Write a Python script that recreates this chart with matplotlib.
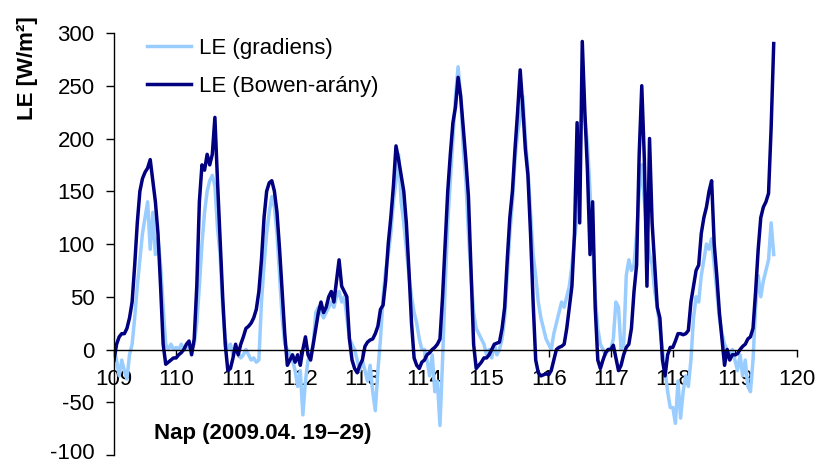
import numpy as np
import matplotlib
matplotlib.use("Agg")
import matplotlib.pyplot as plt
import matplotlib.transforms as mtransforms

plt.rcParams['font.family'] = ['Liberation Sans', 'DejaVu Sans']
plt.rcParams['axes.unicode_minus'] = False

# hourly values, starting at day 109.0
start_day = 109
le_gradiens = [
    # 109
    0, -10, -25, -10, -20, -28, -5, 5, 30, 60, 85, 110, 125, 140, 95, 130, 90, 105, 80, 40, 5, 0, 5, 0,
    # 110
    2, 0, 5, 0, 0, 3, 0, 5, 25, 60, 100, 130, 150, 160, 165, 155, 115, 90, 40, 10, 0, 5, -5, 0,
    # 111
    -3, -8, -5, 0, -5, -10, -8, -12, -10, 45, 80, 110, 130, 145, 135, 110, 70, 30, 5, 0, -5, -10, -20, -35,
    # 112
    -20, -62, -30, -10, -5, 5, 35, 40, 35, 30, 35, 40, 45, 40, 50, 55, 45, 50, 30, 10, 5, 0, -10, -20,
    # 113
    -10, -20, -30, -15, -40, -58, -20, 10, 50, 75, 90, 110, 140, 160, 185, 140, 120, 95, 70, 50, 35, 25, 10, 0,
    # 114
    0, -10, -25, -5, -40, -30, -72, -10, 60, 120, 160, 200, 240, 268, 240, 190, 160, 110, 70, 35, 20, 15, 10, 5,
    # 115
    -5, 0, -8, 5, -5, 0, 10, 30, 70, 110, 140, 180, 205, 220, 240, 200, 170, 130, 90, 70, 45, 30, 20, 10,
    # 116
    5, 0, 15, 25, 35, 45, 40, 50, 60, 80, 105, 125, 180, 235, 220, 195, 150, 100, 50, 20, 5, 0, -5, 0,
    # 117
    0, 10, 45, 40, 0, 5, 70, 85, 75, 80, 110, 150, 175, 140, 110, 90, 80, 55, 40, 20, 0, -20, -40, -55,
    # 118
    -55, -70, -30, -65, -40, -25, -35, -10, 30, 50, 45, 70, 85, 100, 95, 105, 80, 55, 30, 15, 5, 0, -5, 0,
    # 119
    -10, -20, -5, -25, -10, -35, -40, -10, 40, 70, 50, 65, 75, 85, 120, 90,
]
le_bowen = [
    # 109
    -10, 5, 12, 15, 15, 20, 30, 45, 80, 120, 150, 162, 168, 172, 180, 160, 140, 110, 60, 5, -14, -12, -10, -8,
    # 110
    -8, -5, -3, 0, 5, 8, -5, 10, 60, 140, 175, 170, 185, 175, 185, 220, 160, 105, 50, 5, -20, -18, -8, 5,
    # 111
    -5, 5, 12, 20, 22, 25, 30, 38, 55, 85, 125, 150, 158, 160, 150, 130, 95, 55, 15, -15, -10, -5, -12, -5,
    # 112
    -15, 0, 12, -5, -10, 5, 20, 35, 45, 35, 40, 50, 55, 45, 65, 85, 60, 55, 50, 10, -10, -18, -22, -15,
    # 113
    -10, 3, 7, 9, 10, 15, 22, 38, 42, 65, 100, 125, 155, 193, 180, 165, 150, 120, 75, 25, -8, -15, -18, -12,
    # 114
    -10, -5, -3, 0, 2, 5, 10, 50, 100, 150, 185, 215, 230, 258, 240, 210, 180, 145, 75, 5, -18, -15, -12, -8,
    # 115
    -8, -5, 0, 5, 6, 7, 20, 40, 85, 125, 150, 190, 225, 265, 230, 190, 165, 110, 45, -10, -22, -25, -24, -23,
    # 116
    -24, -20, -10, 0, 2, 3, 5, 20, 40, 60, 110, 215, 120, 292, 225, 170, 90, 140, 40, -10, -18, -10, -3, 0,
    # 117
    0, 4, -8, -20, -15, -5, 2, 5, 20, 55, 80, 185, 250, 180, 60, 200, 120, 80, 40, 30, -10, -25, -5, 2,
    # 118
    2, 8, 15, 15, 14, 15, 18, 45, 60, 75, 80, 110, 125, 135, 150, 160, 100, 70, 35, 10, -15, 0, -10, -5,
    # 119
    -5, -4, 0, 3, 5, 10, 12, 20, 55, 95, 125, 135, 140, 148, 210, 290,
]
series_labels = ['LE (gradiens)', 'LE (Bowen-arány)']
series_colors = ['#99ccff', '#000080']

day_g = start_day + np.arange(len(le_gradiens)) / 24
day_b = start_day + np.arange(len(le_bowen)) / 24

fig = plt.figure(figsize=(8.17, 4.65), dpi=100)
ax = fig.add_axes([114 / 817, 10 / 465, 683 / 817, 422 / 465])

ax.plot(day_g, le_gradiens, color=series_colors[0], lw=2.5, label=series_labels[0])
ax.plot(day_b, le_bowen, color=series_colors[1], lw=2.5, label=series_labels[1])

ax.set_xlim(109, 120)
ax.set_ylim(-100, 300)
ax.set_xticks(np.arange(109, 121, 1))
ax.set_yticks(np.arange(-100, 301, 50))

ax.spines['top'].set_visible(False)
ax.spines['right'].set_visible(False)
ax.spines['bottom'].set_position(('data', 0))
for s in ['left', 'bottom']:
    ax.spines[s].set_linewidth(1.0)
ax.tick_params(axis='y', direction='out', length=6, width=1, pad=8, labelsize=16)
ax.tick_params(axis='x', direction='out', length=5, width=1, pad=9, labelsize=16)

# the lowest label sits right at the figure edge; lift it a few pixels
fig.canvas.draw()
lowest = ax.get_yticklabels()[0]
lowest.set_transform(lowest.get_transform() +
                     mtransforms.ScaledTranslation(0, 4 / 100, fig.dpi_scale_trans))

fig.text(27 / 817, 1 - 68 / 465, 'LE [W/m²]', rotation=90, ha='center', va='center',
         fontsize=16, fontweight='bold')
fig.text(263 / 817, 1 - 433 / 465, 'Nap (2009.04. 19–29)', ha='center', va='center',
         fontsize=16, fontweight='bold')

ax.legend(loc='upper left', bbox_to_anchor=(147 / 817, 1 - 38 / 465),
          bbox_transform=fig.transFigure, frameon=False, fontsize=16,
          handlelength=2.0, handletextpad=0.35, labelspacing=0.75,
          borderpad=0, borderaxespad=0)

fig.savefig('out.png', dpi=100)
